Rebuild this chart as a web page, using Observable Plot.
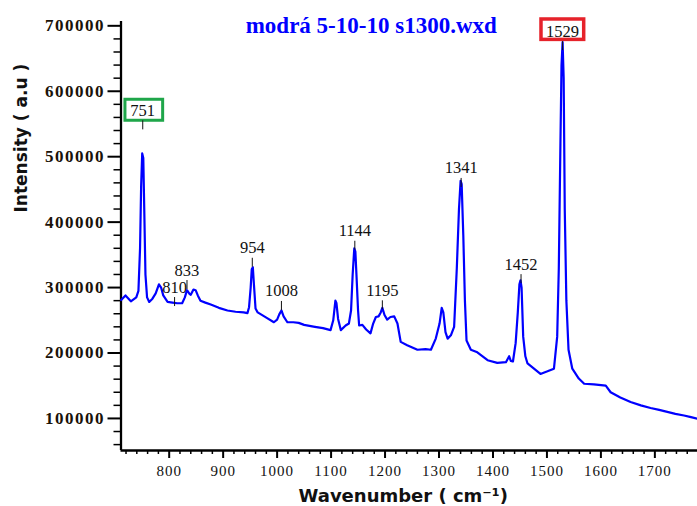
<!DOCTYPE html>
<html><head><meta charset="utf-8">
<script src="https://cdn.jsdelivr.net/npm/d3@7"></script>
<script src="https://cdn.jsdelivr.net/npm/@observablehq/plot@0.6"></script>
<style>
html,body{margin:0;padding:0;background:#fff;}
#chart svg{display:block;background:#fff;}
#chart g[aria-label^="y-axis"] text{font-family:"Liberation Serif",serif;font-weight:bold;font-size:17px;letter-spacing:1.5px;fill:#1a1208;}
#chart g[aria-label^="x-axis"] text{font-family:"Liberation Serif",serif;font-size:15px;letter-spacing:1px;fill:#111;}
#chart g[aria-label^="y-axis"] path,#chart g[aria-label^="y-axis"] line,#chart g[aria-label^="x-axis"] path,#chart g[aria-label^="x-axis"] line{stroke:#000;stroke-width:2px;}
</style></head>
<body><div id="chart"></div>
<script>
const wavenumber = [711,719,729,739,743,746,748,750,752,754,756,759,763,769,775,781,785,789,797,806,815,824,829,833,838,840,845,849,853,858,867,877,892,908,923,938,945,948,951,953,955,957,960,964,980,994,1000,1004,1008,1012,1019,1030,1040,1050,1070,1085,1099,1104,1108,1110,1113,1118,1127,1133,1137,1140,1143,1145,1147,1150,1152,1158,1165,1173,1178,1183,1188,1192,1195,1199,1204,1210,1217,1223,1229,1241,1260,1275,1285,1294,1301,1305,1308,1312,1316,1322,1328,1333,1337,1340,1342,1345,1348,1351,1359,1371,1390,1408,1424,1428,1430,1433,1437,1442,1446,1449,1451,1453,1456,1460,1464,1476,1488,1501,1513,1519,1522,1525,1527,1529,1531,1533,1536,1540,1547,1559,1569,1587,1609,1618,1636,1655,1674,1692,1708,1723,1738,1754,1767,1779];
const intensity = [281000,288000,279000,285000,295000,360000,455000,505000,498000,410000,320000,285000,278000,283000,291000,305000,300000,288000,278000,277000,276000,276000,285000,296000,290000,289000,297000,296000,288000,280000,277000,274000,269000,265000,263000,262000,261000,270000,300000,328000,331000,305000,268000,262000,254000,247000,251000,259000,265000,256000,247000,247000,246000,243000,240000,238000,235000,250000,280000,276000,252000,235000,242000,245000,265000,320000,360000,355000,320000,265000,242000,243000,236000,230000,245000,255000,256000,262000,269000,258000,251000,255000,256000,245000,217000,212000,205000,206000,205000,222000,245000,269000,262000,232000,222000,227000,240000,330000,420000,463000,458000,380000,280000,219000,205000,201000,189000,185000,186000,192000,195000,188000,187000,215000,262000,305000,311000,300000,225000,195000,184000,176000,168000,172000,176000,225000,330000,520000,640000,675000,620000,420000,280000,205000,176000,161000,153000,152000,150000,140000,132000,125000,120000,116000,113000,110000,107000,104500,102000,99500];

const peakWavenumbers = [751,810,833,954,1008,1144,1195,1341,1452,1529];
const peakLabelText = ["751","810","833","954","1008","1144","1195","1341","1452","1529"];
const peakMarkIntensity = [541000,271000,297000,331000,265000,357000,266000,453000,306000,662000];

const xTickValues = [800,900,1000,1100,1200,1300,1400,1500,1600,1700];
const yTickValues = [100000,200000,300000,400000,500000,600000,700000];
const title = "modrá 5-10-10 s1300.wxd";
const xLabel = "Wavenumber ( cm⁻¹)";
const yLabel = "Intensity ( a.u )";
const xDomain = [710.7, 1779];
const yDomain = [51000, 706600];

const spectrum = wavenumber.map((x, i) => ({x, y: intensity[i]}));
const peaks = peakWavenumbers.map((x, i) => ({x, y: peakMarkIntensity[i], label: peakLabelText[i]}));
const greenBox = peaks.filter(d => d.label === "751");
const redBox = peaks.filter(d => d.label === "1529");
const xMinor = d3.range(720, 1780, 20).filter(v => v % 100 !== 0);
const yMinor = d3.range(60000, 700001, 20000).filter(v => v % 100000 !== 0);

const chart = Plot.plot({
  width: 697,
  height: 506,
  marginLeft: 120.5,
  marginRight: 0,
  marginTop: 21,
  marginBottom: 56,
  style: {background: "#fff", overflow: "visible"},
  x: {domain: xDomain, ticks: xTickValues, tickSize: 8, tickPadding: 7, label: null, tickFormat: d => String(d)},
  y: {domain: yDomain, ticks: yTickValues, tickSize: 13, tickPadding: 3, label: null, tickFormat: d => String(d)},
  marks: [
    Plot.ruleX(xMinor, {x: d => d, y1: yDomain[0], y2: yDomain[0], insetBottom: -4, stroke: "#000", strokeWidth: 1.5}),
    Plot.ruleY(yMinor, {y: d => d, x1: xDomain[0], x2: xDomain[0], insetLeft: -7, stroke: "#000", strokeWidth: 1.5}),
    Plot.ruleX([xDomain[0]], {stroke: "#000", strokeWidth: 2.3}),
    Plot.ruleY([yDomain[0]], {stroke: "#000", strokeWidth: 2.3}),
    Plot.line(spectrum, {x: "x", y: "y", stroke: "#0000ff", strokeWidth: 2.2}),
    Plot.rect(greenBox, {x1: "x", x2: "x", y1: "y", y2: "y", insetLeft: -17.3, insetRight: -20.4, insetTop: -30.1, insetBottom: 9.1, fill: "#fff", stroke: "#1fa64a", strokeWidth: 3}),
    Plot.rect(redBox, {x1: "x", x2: "x", y1: "y", y2: "y", insetLeft: -21.1, insetRight: -21.6, insetTop: -31.2, insetBottom: 10.8, fill: "#fff", stroke: "#e6222a", strokeWidth: 3.5}),
    Plot.ruleX(peaks, {x: "x", y1: "y", y2: "y", insetTop: -9, stroke: "#111", strokeWidth: 1}),
    Plot.text(peaks, {x: "x", y: "y", text: "label", dy: -14, lineAnchor: "bottom", fontFamily: "Liberation Serif", fontSize: 16.5, fill: "#111", style: "letter-spacing:0.6px"}),
    Plot.text([title], {text: d => d, frameAnchor: "top", dx: -38, dy: 11, lineAnchor: "bottom", fill: "#0000ff", fontFamily: "Liberation Serif", fontWeight: "bold", fontSize: 23}),
    Plot.text([xLabel], {text: d => d, frameAnchor: "bottom", dx: -6, dy: 51, lineAnchor: "bottom", fill: "#111", fontFamily: "DejaVu Sans", fontWeight: "bold", fontSize: 18}),
    Plot.text([yLabel], {text: d => d, frameAnchor: "left", rotate: -90, dx: -93.8, dy: -23.5, lineAnchor: "bottom", fill: "#111", fontFamily: "DejaVu Sans", fontWeight: "bold", fontSize: 17})
  ]
});
document.getElementById("chart").appendChild(chart);
</script>
</body></html>
